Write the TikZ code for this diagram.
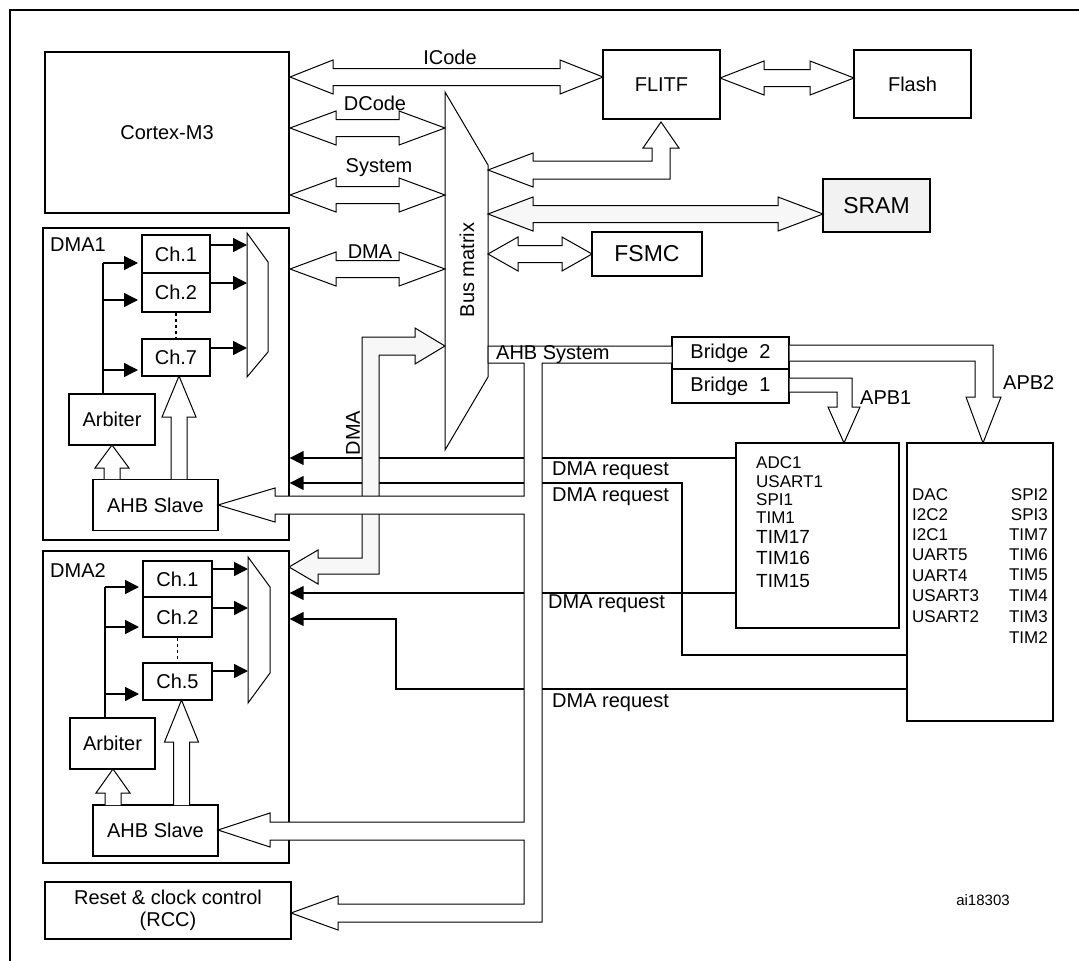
\documentclass[tikz,border=0pt]{standalone}
\usepackage{fontspec}
\setmainfont{Liberation Sans}
\usetikzlibrary{arrows.meta}
\tikzset{
  box/.style={rectangle, draw, line width=1.3pt, inner sep=0pt, align=center},
  bus/.style={draw, line width=1pt, fill=white, line join=miter},
  req/.style={line width=1.4pt, -{Triangle[length=14pt,width=14pt]}},
  lbl/.style={inner sep=0pt, font=\fontsize{20}{22}\selectfont},
  per/.style={inner sep=0pt, anchor=west, font=\fontsize{17}{18}\selectfont},
}
% hollow double arrow: x1, x2, y, head length
\newcommand{\biarrow}[5][bus]{\draw[#1] (#2,#4) -- (#2+#5,#4-17) -- (#2+#5,#4-8.5) -- (#3-#5,#4-8.5) -- (#3-#5,#4-17) -- (#3,#4) -- (#3-#5,#4+17) -- (#3-#5,#4+8.5) -- (#2+#5,#4+8.5) -- (#2+#5,#4+17) -- cycle;}
% hollow up arrow: x, tip, base, head base
\newcommand{\uparrowh}[4]{\draw[bus] (#1-8,#3) -- (#1-8,#4) -- (#1-17,#4) -- (#1,#2) -- (#1+17,#4) -- (#1+8,#4) -- (#1+8,#3);}
\begin{document}
\begin{tikzpicture}[x=1pt,y=-1pt]
\useasboundingbox (0,0) rectangle (1079,961);
\draw[line width=1.4pt] (10,961) -- (10,10) -- (1079,10);

% boxes
\node[box, minimum width=244pt, minimum height=161pt, lbl] (cortex) at (167,132.5) {Cortex-M3};
\node[box, minimum width=117pt, minimum height=69pt, lbl] (flitf) at (661.5,84.5) {FLITF};
\node[box, minimum width=117pt, minimum height=68pt, lbl] (flash) at (912.5,84) {Flash};
\node[box, minimum width=107pt, minimum height=53pt, fill=black!5, lbl, font=\fontsize{23}{24}\selectfont] (sram) at (876.5,205.5) {SRAM};
\node[box, minimum width=110pt, minimum height=44pt, lbl, font=\fontsize{23}{24}\selectfont] (fsmc) at (647,254) {FSMC};
\node[box, minimum width=246pt, minimum height=312pt] (dma1) at (166,384) {};
\node[lbl, anchor=west] at (50,245) {DMA1};
\node[box, minimum width=68pt, minimum height=38pt, lbl] (ch11) at (176,254) {Ch.1};
\node[box, minimum width=68pt, minimum height=39pt, lbl] (ch12) at (176,292.5) {Ch.2};
\node[box, minimum width=68pt, minimum height=37pt, lbl] (ch17) at (176,357.5) {Ch.7};
\node[box, minimum width=86pt, minimum height=51pt, lbl] (arb1) at (112,419.5) {Arbiter};
\node[box, minimum width=125pt, minimum height=51pt, lbl] (ahb1) at (155.5,505) {AHB Slave};
\node[box, minimum width=246pt, minimum height=312pt] (dma2) at (166,707) {};
\node[lbl, anchor=west] at (50,571) {DMA2};
\node[box, minimum width=69pt, minimum height=36pt, lbl] (ch21) at (177.5,579) {Ch.1};
\node[box, minimum width=69pt, minimum height=40pt, lbl] (ch22) at (177.5,617) {Ch.2};
\node[box, minimum width=69pt, minimum height=37pt, lbl] (ch25) at (177.5,681.5) {Ch.5};
\node[box, minimum width=85pt, minimum height=51pt, lbl] (arb2) at (112.5,743.5) {Arbiter};
\node[box, minimum width=125pt, minimum height=51pt, lbl] (ahb2) at (155.5,830.5) {AHB Slave};
\node[box, minimum width=246pt, minimum height=57pt, lbl] (rcc) at (168,910.5) {Reset \& clock control\\(RCC)};
\node[box, minimum width=117pt, minimum height=32pt, lbl] (bridge2) at (730.5,353) {Bridge\ \ 2};
\node[box, minimum width=117pt, minimum height=34pt, lbl] (bridge1) at (730.5,386) {Bridge\ \ 1};
\node[box, minimum width=163pt, minimum height=185pt] (apb1) at (817.5,535.5) {};
\node[box, minimum width=146pt, minimum height=278pt] (apb2) at (980,582) {};

% bus matrix and muxes
\draw[line width=1pt] (445,92) -- (488,165) -- (488,377) -- (445,450) -- cycle;
\node[lbl, rotate=90] (busm) at (467,270) {Bus matrix};
\draw[line width=1pt] (247,233) -- (268,262) -- (268,352) -- (247,377) -- cycle;
\draw[line width=1pt] (248,557) -- (270,587) -- (270,673) -- (248,703) -- cycle;

% DMA1 inside
\foreach \y in {245,283,348} \draw[req] (ch11.east |- 0,\y) -- (247,\y);
\draw[line width=1.3pt] (arb1.north -| 103,0) -- (103,263);
\foreach \y in {263,300,370} \draw[req] (103,\y) -- (138,\y);
\draw[line width=1.3pt, dash pattern=on 3pt off 3pt] (ch12.south) -- (ch17.north);
\uparrowh{112}{445}{479}{468}
\uparrowh{179}{376}{479}{417}
% DMA2 inside
\foreach \y in {569,608,671} \draw[req] (ch21.east |- 0,\y) -- (248,\y);
\draw[line width=1.3pt] (arb2.north -| 105,0) -- (105,587);
\foreach \y in {587,627,694} \draw[req] (105,\y) -- (139,\y);
\draw[line width=1.3pt, dash pattern=on 3pt off 3pt] (ch22.south) -- (ch25.north);
\uparrowh{113}{769}{805}{793}
\uparrowh{181.5}{700}{805}{742}

% DMA requests
\draw[req] (apb1.west |- 0,458) -- (dma1.east |- 0,458);
\draw[req] (apb2.west |- 0,655) -| (682,483) -- (dma1.east |- 0,483);
\draw[req] (apb1.west |- 0,593) -- (dma2.east |- 0,593);
\draw[req] (apb2.west |- 0,689) -| (396,619) -- (dma2.east |- 0,619);
\node[lbl, anchor=west] at (552,471) {DMA request};
\node[lbl, anchor=west] at (552,497) {DMA request};
\node[lbl, anchor=west] at (548,604) {DMA request};
\node[lbl, anchor=west] at (552,703) {DMA request};

% buses to the CPU side
\biarrow{290}{603}{77}{43}
\biarrow{290}{445}{128}{46}
\biarrow{290}{445}{195}{46}
\biarrow{290}{445}{269}{46}
\biarrow{720}{854}{78}{44}
\biarrow[bus, fill=black!3]{488}{823}{214}{45}
\biarrow{488}{592}{254}{30}
\node[lbl] at (450,57) {ICode};
\node[lbl] at (375,103) {DCode};
\node[lbl] at (379,168) {System};
\node[lbl] at (370,252) {DMA};
\draw[bus] (488,170) -- (533,153) -- (533,161) -- (652,161) -- (652,148) -- (643,148) -- (661,122)
  -- (679,148) -- (670,148) -- (670,179) -- (533,179) -- (533,187) -- cycle;

% DMA bus
\draw[bus, fill=black!3] (445,346) -- (415,328) -- (415,337) -- (362,337) -- (362,558) -- (318,558) -- (318,550)
  -- (289,567) -- (318,584) -- (318,574) -- (379,574) -- (379,355) -- (415,355) -- (415,364) -- cycle;
\node[lbl, rotate=90] at (353,433) {DMA};

% AHB system bus
\draw[bus] (488,346) -- (672,346) -- (672,363) -- (542,363) -- (542,922) -- (338,922) -- (338,930)
  -- (291,913) -- (338,896) -- (338,904) -- (524,904) -- (524,840) -- (270,840) -- (270,847)
  -- (218,830) -- (270,813) -- (270,822) -- (524,822) -- (524,514) -- (275,514) -- (275,522)
  -- (218,505) -- (275,488) -- (275,496) -- (524,496) -- (524,363) -- (488,363) -- cycle;
\node[lbl, anchor=west] at (496,355) {AHB System};

% APB buses
\draw[bus] (bridge1.east |- 0,378) -- (852,378) -- (852,407) -- (860,407) -- (844,443) -- (828,407)
  -- (837,407) -- (837,392) -- (bridge1.east |- 0,392);
\draw[bus] (bridge2.east |- 0,345) -- (993,345) -- (993,397) -- (1001,397) -- (983,443) -- (966,397)
  -- (975,397) -- (975,361) -- (bridge2.east |- 0,361);
\node[lbl, anchor=west] at (860,398) {APB1};
\node[lbl, anchor=west] at (1003,383) {APB2};

% peripherals
\foreach \t/\y in {ADC1/463,USART1/482,SPI1/500,TIM1/518} \node[per] at (756,\y) {\t};
\foreach \t/\y in {TIM17/537,TIM16/558,TIM15/581} \node[per, font=\fontsize{19}{20}\selectfont] at (756,\y) {\t};
\foreach \t/\y in {DAC/495,I2C2/515,I2C1/535,UART5/555,UART4/576,USART3/596,USART2/617} \node[per] at (912,\y) {\t};
\foreach \t/\y in {SPI2/495,SPI3/515,TIM7/535,TIM6/555,TIM5/575,TIM4/596,TIM3/617,TIM2/638} \node[per, anchor=east] at (1048,\y) {\t};

\node[lbl, font=\fontsize{15}{16}\selectfont] at (983,900) {ai18303};
\end{tikzpicture}
\end{document}
